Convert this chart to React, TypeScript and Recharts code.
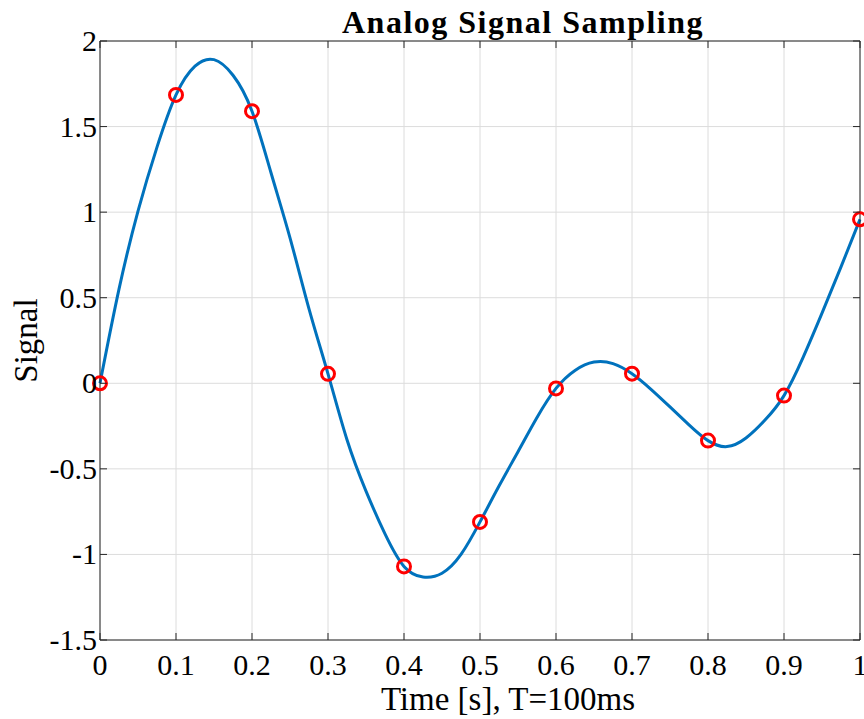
import { ComposedChart, Line, Scatter, XAxis, YAxis, CartesianGrid } from "recharts"

// continuous signal, every 25 ms
const curveTime = [
  0, 0.025, 0.05, 0.075, 0.1, 0.125, 0.15, 0.175, 0.2, 0.225, 0.25, 0.275, 0.3, 0.325, 0.35, 0.375,
  0.4, 0.425, 0.45, 0.475, 0.5, 0.525, 0.55, 0.575, 0.6, 0.625, 0.65, 0.675, 0.7, 0.725, 0.75, 0.775,
  0.8, 0.825, 0.85, 0.875, 0.9, 0.925, 0.95, 0.975, 1,
]
const curveSignal = [
  0, 0.55, 1.006, 1.38, 1.685, 1.853, 1.891, 1.8, 1.59, 1.23, 0.85, 0.435, 0.055, -0.33, -0.63, -0.88,
  -1.07, -1.132, -1.11, -1.0, -0.81, -0.6, -0.4, -0.2, -0.03, 0.075, 0.124, 0.115, 0.056, -0.035, -0.138, -0.243,
  -0.335, -0.37, -0.32, -0.215, -0.072, 0.15, 0.41, 0.68, 0.958,
]

// samples every T = 100 ms
const sampleTime = [0, 0.1, 0.2, 0.3, 0.4, 0.5, 0.6, 0.7, 0.8, 0.9, 1]
const sampleSignal = [0, 1.685, 1.59, 0.055, -1.07, -0.81, -0.03, 0.056, -0.335, -0.072, 0.958]

const xTicks = [0, 0.1, 0.2, 0.3, 0.4, 0.5, 0.6, 0.7, 0.8, 0.9, 1]
const yTicks = [-1.5, -1, -0.5, 0, 0.5, 1, 1.5, 2]

const curve = curveTime.map((t, i) => ({ t, v: curveSignal[i] }))
const samples = sampleTime.map((t, i) => ({ t, v: sampleSignal[i] }))

const FONT = "'Liberation Serif', 'DejaVu Serif', serif"
const AXIS = "#262626"
const TICK_LEN = 7

const BottomTick = ({ x, y, payload }: any) => (
  <g>
    <line x1={x} y1={y} x2={x} y2={y - TICK_LEN} stroke={AXIS} />
    <text x={x} y={y + 35} textAnchor="middle" fontFamily={FONT} fontSize={30} fill="#000">
      {String(payload.value)}
    </text>
  </g>
)

const LeftTick = ({ x, y, payload }: any) => (
  <g>
    <line x1={x} y1={y} x2={x + TICK_LEN} y2={y} stroke={AXIS} />
    <text x={x - 3} y={y + 10} textAnchor="end" fontFamily={FONT} fontSize={30} fill="#000">
      {String(payload.value)}
    </text>
  </g>
)

const TopTick = ({ x, y }: any) => <line x1={x} y1={y} x2={x} y2={y + TICK_LEN} stroke={AXIS} />
const RightTick = ({ x, y }: any) => <line x1={x} y1={y} x2={x - TICK_LEN} y2={y} stroke={AXIS} />

const SampleMarker = (props: any) => (
  <circle cx={props.cx} cy={props.cy} r={6.5} fill="none" stroke="#ff0000" strokeWidth={3} />
)

export default function App() {
  return (
    <div style={{ position: "absolute", left: 0, top: 0, background: "#fff" }}>
      <ComposedChart width={864} height={719} margin={{ top: 40, right: 3, bottom: 0, left: 0 }}>
        <CartesianGrid stroke="#dcdcdc" />
        <XAxis
          dataKey="t"
          type="number"
          domain={[0, 1]}
          ticks={xTicks}
          height={79}
          tickSize={0}
          tickMargin={0}
          stroke={AXIS}
          tick={<BottomTick />}
          label={{
            content: ({ viewBox }: any) => (
              <text
                x={viewBox.x + viewBox.width / 2 + 28}
                y={710}
                textAnchor="middle"
                fontFamily={FONT}
                fontSize={33}
                fill="#000"
              >
                Time [s], T=100ms
              </text>
            ),
          }}
        />
        <XAxis
          xAxisId="top"
          dataKey="t"
          orientation="top"
          type="number"
          domain={[0, 1]}
          ticks={xTicks}
          height={1}
          tickSize={0}
          tickMargin={0}
          stroke={AXIS}
          tick={<TopTick />}
          label={{
            content: ({ viewBox }: any) => (
              <text
                x={viewBox.x + viewBox.width / 2 + 43}
                y={33}
                textAnchor="middle"
                fontFamily={FONT}
                fontWeight="bold"
                fontSize={32}
                letterSpacing={1.5}
                fill="#000"
              >
                Analog Signal Sampling
              </text>
            ),
          }}
        />
        <YAxis
          type="number"
          domain={[-1.5, 2]}
          ticks={yTicks}
          width={100}
          tickSize={0}
          tickMargin={0}
          stroke={AXIS}
          tick={<LeftTick />}
          label={{
            content: ({ viewBox }: any) => (
              <text
                x={37}
                y={viewBox.y + viewBox.height / 2}
                textAnchor="middle"
                transform={`rotate(-90, 37, ${viewBox.y + viewBox.height / 2})`}
                fontFamily={FONT}
                fontSize={33}
                fill="#000"
              >
                Signal
              </text>
            ),
          }}
        />
        <YAxis
          yAxisId="right"
          orientation="right"
          type="number"
          domain={[-1.5, 2]}
          ticks={yTicks}
          width={1}
          tickSize={0}
          tickMargin={0}
          stroke={AXIS}
          tick={<RightTick />}
        />
        <Line
          data={curve}
          dataKey="v"
          type="natural"
          stroke="#0072bd"
          strokeWidth={3}
          dot={false}
          isAnimationActive={false}
        />
        <Scatter
          data={samples}
          dataKey="v"
          xAxisId="top"
          yAxisId="right"
          shape={<SampleMarker />}
          isAnimationActive={false}
        />
      </ComposedChart>
    </div>
  )
}
